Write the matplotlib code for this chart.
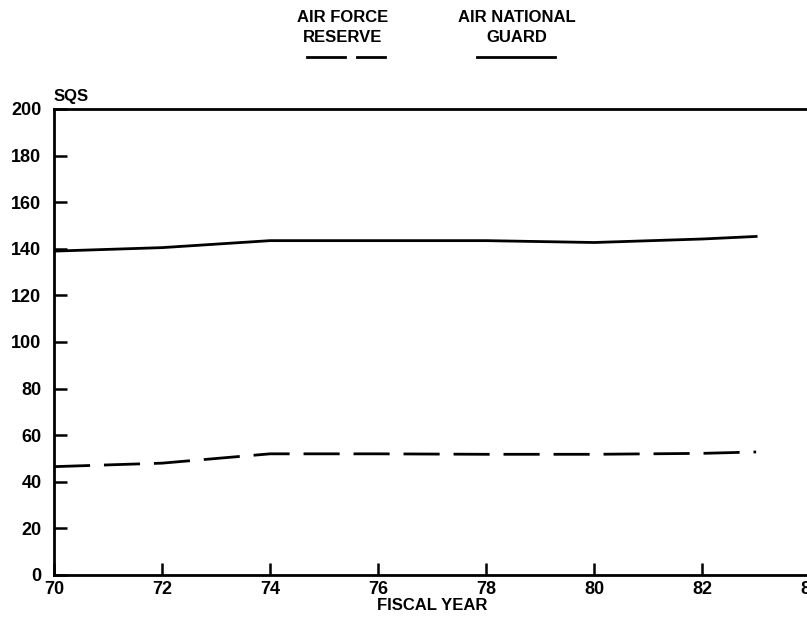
import matplotlib
matplotlib.use('Agg')
import matplotlib.pyplot as plt

# squadrons per fiscal year
years = [70, 72, 74, 76, 78, 80, 82, 83]
guard_sqs = [139, 140.5, 143.5, 143.5, 143.5, 142.7, 144.2, 145.3]
reserve_sqs = [46.5, 48, 52, 52, 51.8, 51.8, 52.2, 52.8]

x_ticks = [70, 72, 74, 76, 78, 80, 82, 84]
y_ticks = [0, 20, 40, 60, 80, 100, 120, 140, 160, 180, 200]

plt.rcParams['font.family'] = ['Liberation Sans', 'DejaVu Sans']
plt.rcParams['font.weight'] = 'bold'

fig = plt.figure(figsize = (8.07, 6.2), dpi = 100)
ax = fig.add_axes([0.0669, 0.0726, 0.937, 0.7516])

lw = 2.0
dash = (0, (13, 5))
ax.plot(years, guard_sqs, color = 'black', linewidth = lw)
ax.plot(years, reserve_sqs, color = 'black', linewidth = lw, linestyle = dash)

ax.set_xlim(70, 84)
ax.set_ylim(0, 200)
ax.set_xticks(x_ticks)
ax.set_yticks(y_ticks)
ax.tick_params(direction = 'in', length = 9, width = 1.8, labelsize = 13, pad = 9)
ax.tick_params(axis = 'x', pad = 4)
for lab in ax.get_xticklabels() + ax.get_yticklabels():
    lab.set_fontweight('bold')

ax.spines['right'].set_visible(False)
for s in ['left', 'top', 'bottom']:
    ax.spines[s].set_linewidth(2.0)

ax.set_xlabel('FISCAL YEAR', fontsize = 12, fontweight = 'bold', labelpad = 0)
ax.text(0.0, 1.01, 'SQS', transform = ax.transAxes, fontsize = 12, fontweight = 'bold',
        ha = 'left', va = 'bottom')

# legend drawn as header above plot
fig.text(343 / 807, 1 - 17 / 620, 'AIR FORCE', ha = 'center', va = 'center', fontsize = 12, fontweight = 'bold')
fig.text(343 / 807, 1 - 38 / 620, 'RESERVE', ha = 'center', va = 'center', fontsize = 12, fontweight = 'bold')
fig.text(517 / 807, 1 - 17 / 620, 'AIR NATIONAL', ha = 'center', va = 'center', fontsize = 12, fontweight = 'bold')
fig.text(517 / 807, 1 - 38 / 620, 'GUARD', ha = 'center', va = 'center', fontsize = 12, fontweight = 'bold')

ly = 1 - 57 / 620
fig.add_artist(plt.Line2D([307 / 807, 345 / 807], [ly, ly], color = 'black', linewidth = lw))
fig.add_artist(plt.Line2D([357 / 807, 385 / 807], [ly, ly], color = 'black', linewidth = lw))
fig.add_artist(plt.Line2D([477 / 807, 555 / 807], [ly, ly], color = 'black', linewidth = lw))

fig.savefig('out.png', dpi = 100)
